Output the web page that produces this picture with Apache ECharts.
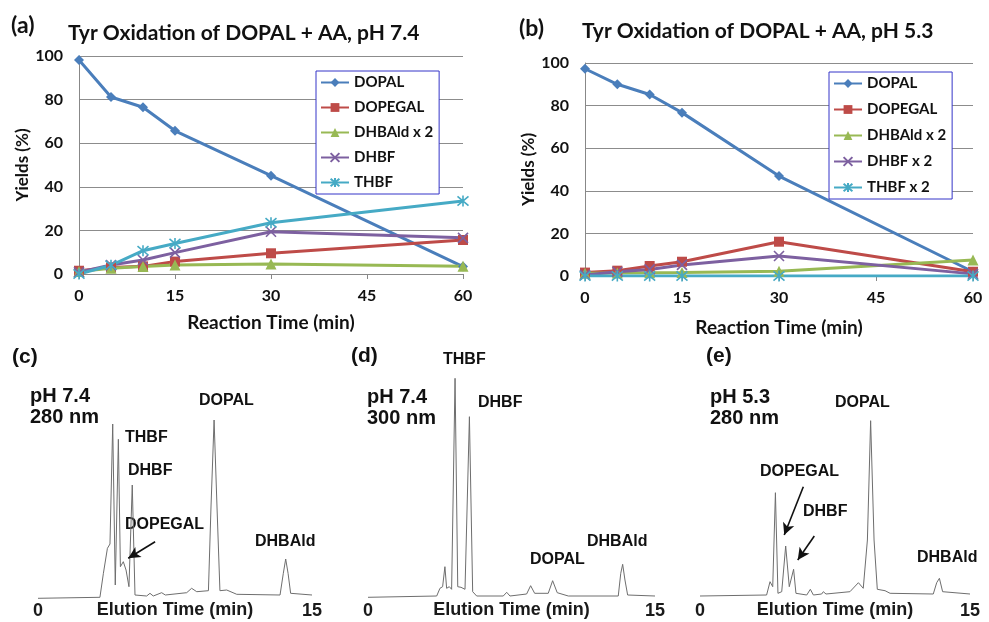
<!DOCTYPE html>
<html>
<head>
<meta charset="utf-8">
<script src="https://cdn.jsdelivr.net/npm/echarts@6/dist/echarts.min.js"></script>
<style>
  html, body { margin: 0; padding: 0; background: #fff; }
  #chart { width: 989px; height: 622px; }
</style>
</head>
<body>
<div id="chart"></div>
<script>
// reaction time points (min)
const times = [0, 5, 10, 15, 30, 60]

// (a) pH 7.4 yields (%)
const a_DOPAL = [98.2, 81.2, 76.5, 65.7, 45.1, 3.4]
const a_DOPEGAL = [1.5, 3, 3.5, 5.7, 9.5, 15.6]
const a_DHBAld = [1.1, 2.6, 3.4, 4.1, 4.6, 3.6]
const a_DHBF = [0.8, 4.1, 6.4, 9.8, 19.4, 16.6]
const a_THBF = [0, 4, 10.7, 14, 23.5, 33.5]

// (b) pH 5.3 yields (%)
const b_DOPAL = [97.3, 90, 85.2, 76.7, 46.9, 2]
const b_DOPEGAL = [1.6, 2.5, 4.7, 6.7, 16.1, 2]
const b_DHBAld = [1.3, 1.4, 1.5, 1.6, 2.2, 7.5]
const b_DHBF = [0.5, 2, 3.1, 5.2, 9.4, 1]
const b_THBF = [0, 0, 0, 0, 0, 0]

// chromatogram traces [elution time (min), detector signal]
const traceC = [
  [0, 1.7], [3.39, 2.7], [3.58, 26.7], [3.8, 51.7], [3.94, 56], [4.09, 176], [4.23, 15],
  [4.4, 160.7], [4.51, 33.3], [4.67, 38.3], [4.82, 30], [4.98, 13.3], [5.16, 115], [5.31, 5],
  [5.95, 4], [6.13, 6.7], [6.31, 4], [6.77, 7.3], [6.97, 5], [8.14, 7.3], [8.41, 11.7],
  [8.69, 8.3], [9.33, 9.3], [9.47, 93], [9.64, 180], [9.8, 93], [9.96, 9.3], [10.33, 10],
  [10.88, 5.7], [13.25, 5], [13.43, 26.7], [13.56, 41], [13.69, 26.7], [13.83, 6.7], [15, 5]
]
const traceD = [
  [0, 2.7], [3.59, 4], [3.76, 11.7], [3.9, 13.3], [4.02, 33.3], [4.11, 11.7], [4.25, 13.3],
  [4.37, 10.7], [4.55, 221.7], [4.69, 13.3], [4.86, 12.7], [5.07, 10.7], [5.3, 183.3],
  [5.47, 8.3], [5.68, 4], [7.07, 4], [7.25, 7.7], [7.42, 4], [8.29, 6], [8.5, 14.3],
  [8.71, 6.7], [9.42, 6.7], [9.65, 19.3], [9.89, 7.3], [10.47, 4], [13.08, 4], [13.21, 26.7],
  [13.31, 35.7], [13.43, 20], [13.57, 5], [15, 4]
]
const traceE = [
  [0, 4], [3.7, 5], [3.89, 18.3], [4.04, 13.3], [4.19, 107.3], [4.33, 6.7], [4.54, 8.3],
  [4.76, 54], [4.96, 13.3], [5.2, 30.7], [5.33, 6.7], [5.93, 5], [6.13, 10.7], [6.3, 5],
  [6.76, 6], [6.85, 8.3], [7, 6], [8.33, 8.3], [8.8, 17.3], [9.07, 11.7], [9.3, 60],
  [9.48, 179.3], [9.67, 60], [9.85, 10.7], [10.28, 9.3], [10.56, 6.7], [12.96, 6],
  [13.15, 17.3], [13.3, 21.7], [13.48, 8.3], [15, 6]
]

// peak-pointer arrows [from, to]
const arrowsC = [[[6.41, 58.3], [4.94, 41.7]]]
const arrowsE = [[[5.74, 113.3], [4.68, 65]], [[6.35, 64], [5.43, 40]]]

const legendA = ['DOPAL', 'DOPEGAL', 'DHBAld x 2', 'DHBF', 'THBF']
const legendB = ['DOPAL', 'DOPEGAL', 'DHBAld x 2', 'DHBF x 2', 'THBF x 2']

const colors = ['#4a7ebb', '#be4b48', '#98b954', '#7d60a0', '#46aac5']
const symbols = [
  'diamond',
  'rect',
  'triangle',
  'path://M0,0L10,10M10,0L0,10',
  'path://M0,0L10,10M10,0L0,10M5,-1L5,11'
]
const sizes = [10, 10, 11, 10, 11]

const topFont = 'Lato, "Open Sans", sans-serif'
const botFont = '"Liberation Sans", Arial, sans-serif'

const chart = echarts.init(document.getElementById('chart'))

function pair(vals) {
  return times.map((t, i) => [t, vals[i]])
}

function yieldSeries(names, sets, idx) {
  return sets.map((vals, i) => ({
    name: names[i],
    type: 'line',
    xAxisIndex: idx,
    yAxisIndex: idx,
    data: pair(vals),
    symbol: symbols[i],
    symbolSize: sizes[i],
    showAllSymbol: true,
    lineStyle: { color: colors[i], width: 3 },
    itemStyle: i >= 3
      ? { color: 'rgba(0,0,0,0)', borderColor: colors[i], borderWidth: 1.6 }
      : { color: colors[i] },
    emphasis: { disabled: true },
    animation: false
  }))
}

function traceSeries(name, data, idx, arrows) {
  const s = {
    name: name,
    type: 'line',
    xAxisIndex: idx,
    yAxisIndex: idx,
    data: data,
    showSymbol: false,
    lineStyle: { color: '#6e6e6e', width: 1 },
    emphasis: { disabled: true },
    animation: false
  }
  if (arrows) {
    s.markLine = {
      silent: true,
      animation: false,
      symbol: ['none', 'arrow'],
      symbolSize: [9, 12],
      label: { show: false },
      lineStyle: { color: '#111', width: 1.6, type: 'solid' },
      data: arrows.map(a => [{ coord: a[0] }, { coord: a[1] }])
    }
  }
  return s
}

function topX(idx, gap) {
  return {
    gridIndex: idx, type: 'value', min: 0, max: 60, interval: 15,
    name: 'Reaction Time (min)', nameLocation: 'middle', nameGap: gap,
    nameTextStyle: { fontFamily: topFont, fontWeight: 'bold', fontSize: 19, color: '#111' },
    axisLine: { lineStyle: { color: '#888', width: 1 } },
    axisTick: { show: true, length: 5, lineStyle: { color: '#888' } },
    axisLabel: { fontFamily: topFont, fontWeight: 'bold', fontSize: 16, color: '#111', margin: 14 },
    splitLine: { show: false }
  }
}

function topY(idx, gap) {
  return {
    gridIndex: idx, type: 'value', min: 0, max: 100, interval: 20,
    name: 'Yields (%)', nameLocation: 'middle', nameGap: gap,
    nameTextStyle: { fontFamily: topFont, fontWeight: 'bold', fontSize: 17, color: '#111' },
    axisLine: { show: true, lineStyle: { color: '#888', width: 1 } },
    axisTick: { show: false },
    axisLabel: { fontFamily: topFont, fontWeight: 'bold', fontSize: 16, color: '#111', margin: 16 },
    splitLine: { lineStyle: { color: '#8c8c8c', width: 1 } }
  }
}

function botX(idx) {
  return {
    gridIndex: idx, type: 'value', min: 0, max: 15, interval: 15,
    name: 'Elution Time (min)', nameLocation: 'middle', nameGap: 1,
    nameMoveOverlap: false,
    nameTextStyle: { fontFamily: botFont, fontWeight: 'bold', fontSize: 18, color: '#1a1a1a' },
    axisLine: { show: false },
    axisTick: { show: false },
    axisLabel: { fontFamily: botFont, fontWeight: 'bold', fontSize: 18, color: '#1a1a1a', margin: 2 },
    splitLine: { show: false }
  }
}

function botY(idx) {
  return { gridIndex: idx, type: 'value', min: 0, max: 230, show: false, splitLine: { show: false } }
}

function legendBox(names, left, top, gap) {
  return {
    data: names, orient: 'vertical', left: left, top: top,
    itemWidth: 28, itemHeight: 11, itemGap: gap,
    padding: [4, 6, 4, 4],
    borderColor: '#3535c8', borderWidth: 1, backgroundColor: '#fff',
    selectedMode: false,
    textStyle: { fontFamily: topFont, fontWeight: 'bold', fontSize: 15, color: '#111' }
  }
}

function txt(text, x, y, size, family) {
  return {
    type: 'text', x: x, y: y, silent: true,
    style: {
      text: text, fill: '#111',
      font: 'bold ' + size + 'px ' + family,
      textAlign: 'left', textVerticalAlign: 'middle'
    }
  }
}

const option = {
  backgroundColor: '#fff',
  grid: [
    { left: 79, top: 56, width: 384, height: 218, outerBoundsMode: 'none' },
    { left: 585, top: 63, width: 388, height: 213, outerBoundsMode: 'none' },
    { left: 38, top: 370, width: 274, height: 230, outerBoundsMode: 'none' },
    { left: 368, top: 370, width: 287, height: 230, outerBoundsMode: 'none' },
    { left: 700, top: 370, width: 270, height: 230, outerBoundsMode: 'none' }
  ],
  xAxis: [topX(0, 39), topX(1, 42), botX(2), botX(3), botX(4)],
  yAxis: [topY(0, 48), topY(1, 42), botY(2), botY(3), botY(4)],
  legend: [
    legendBox(legendA, 316, 71, 10),
    legendBox(legendB, 829, 72, 11)
  ],
  series: [
    ...yieldSeries(legendA, [a_DOPAL, a_DOPEGAL, a_DHBAld, a_DHBF, a_THBF], 0),
    ...yieldSeries(legendB, [b_DOPAL, b_DOPEGAL, b_DHBAld, b_DHBF, b_THBF], 1),
    traceSeries('trace c', traceC, 2, arrowsC),
    traceSeries('trace d', traceD, 3, null),
    traceSeries('trace e', traceE, 4, arrowsE)
  ],
  graphic: [
    txt('(a)', 11, 26, 23, topFont),
    txt('Tyr Oxidation of DOPAL + AA, pH 7.4', 68, 33, 21, topFont),
    txt('(b)', 519, 29, 23, topFont),
    txt('Tyr Oxidation of DOPAL + AA, pH 5.3', 582, 31, 21, topFont),

    txt('(c)', 12, 357, 21, botFont),
    txt('pH 7.4', 30, 396, 20, botFont),
    txt('280 nm', 30, 417, 20, botFont),
    txt('THBF', 125, 438, 16, botFont),
    txt('DHBF', 128, 471, 16, botFont),
    txt('DOPEGAL', 125, 525, 16, botFont),
    txt('DOPAL', 199, 401, 16, botFont),
    txt('DHBAld', 255, 542, 16, botFont),

    txt('(d)', 351, 356, 21, botFont),
    txt('THBF', 443, 360, 16, botFont),
    txt('pH 7.4', 367, 397, 20, botFont),
    txt('300 nm', 367, 418, 20, botFont),
    txt('DHBF', 478, 403, 16, botFont),
    txt('DOPAL', 530, 560, 16, botFont),
    txt('DHBAld', 587, 542, 16, botFont),

    txt('(e)', 706, 356, 21, botFont),
    txt('pH 5.3', 710, 397, 20, botFont),
    txt('280 nm', 710, 418, 20, botFont),
    txt('DOPAL', 835, 403, 16, botFont),
    txt('DOPEGAL', 760, 472, 16, botFont),
    txt('DHBF', 803, 512, 16, botFont),
    txt('DHBAld', 917, 558, 16, botFont)
  ]
}

chart.setOption(option)
</script>
</body>
</html>
